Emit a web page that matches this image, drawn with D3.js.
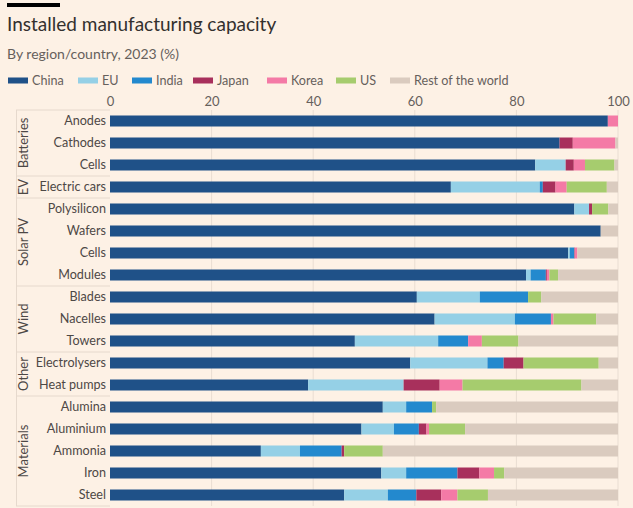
<!DOCTYPE html>
<html>
<head>
<meta charset="utf-8">
<script src="https://cdn.jsdelivr.net/npm/d3@7"></script>
<style>
  html, body { margin: 0; padding: 0; background: #fdf1e5; }
  svg { display: block; }
  text { font-family: Lato, "Open Sans", sans-serif; }
</style>
</head>
<body>
<svg id="chart" width="633" height="508"></svg>
<script>
// ---- Data ----
const categories = ["Anodes","Cathodes","Cells","Electric cars","Polysilicon","Wafers","Cells","Modules",
  "Blades","Nacelles","Towers","Electrolysers","Heat pumps","Alumina","Aluminium","Ammonia","Iron","Steel"];
const groups = ["Batteries","Batteries","Batteries","EV","Solar PV","Solar PV","Solar PV","Solar PV",
  "Wind","Wind","Wind","Other","Other","Materials","Materials","Materials","Materials","Materials"];
const seriesNames = ["China","EU","India","Japan","Korea","US","Rest of the world"];
const china = [98.0,88.5,83.7,67.1,91.4,96.6,90.2,81.9,60.4,63.9,48.2,59.1,39.0,53.7,49.5,29.7,53.4,46.1];
const eu    = [0,0,6.0,17.5,2.9,0,0.3,0.9,12.4,15.8,16.4,15.2,18.8,4.6,6.4,7.7,4.9,8.6];
const india = [0,0,0,0.6,0,0,0.9,3.0,9.5,7.1,5.9,3.2,0,5.1,4.9,8.2,10.1,5.6];
const japan = [0,2.6,1.6,2.5,0.6,0,0.1,0.2,0,0,0,3.9,7.1,0,1.5,0.5,4.3,4.9];
const korea = [2.0,8.4,2.2,2.2,0,0,0.5,0.5,0,0.5,2.7,0,4.5,0,0.5,0,2.9,3.2];
const us    = [0,0,5.8,7.9,3.2,0,0,1.7,2.6,8.4,7.2,14.8,23.4,0.8,7.1,7.6,2.0,6.0];
const rest  = [0,0.5,0.7,2.2,1.9,3.4,8.0,11.8,15.1,4.3,19.6,3.8,7.2,35.8,30.1,46.3,22.4,25.6];
const xTicks = [0,20,40,60,80,100];
const colors = ["#1f5188","#95d0e6","#2389ce","#a8305c","#f47aa6","#a6cc6e","#dacbbf"];

const seriesValues = [china, eu, india, japan, korea, us, rest];
const rows = categories.map((c, i) => {
  const o = { idx: i, cat: c, group: groups[i] };
  seriesNames.forEach((s, j) => o[s] = seriesValues[j][i]);
  return o;
});

const svg = d3.select("#chart");
const W = 633, H = 508;
svg.append("rect").attr("width", W).attr("height", H).attr("fill", "#fdf1e5");

// top black bar
svg.append("rect").attr("x", 7).attr("y", 3).attr("width", 53).attr("height", 4).attr("fill", "#000");

svg.append("text").attr("x", 7).attr("y", 31).attr("font-size", 19).attr("fill", "#33302e")
  .text("Installed manufacturing capacity");
svg.append("text").attr("x", 7).attr("y", 59).attr("font-size", 14).attr("fill", "#66605c")
  .text("By region/country, 2023 (%)");

// legend
const legendX = [8, 78, 132, 193, 267, 336, 390];
const lg = svg.append("g");
seriesNames.forEach((s, j) => {
  const g = lg.append("g").attr("transform", `translate(${legendX[j]},0)`);
  g.append("rect").attr("x", 0).attr("y", 77.5).attr("width", 20).attr("height", 6).attr("fill", colors[j]);
  g.append("text").attr("x", 24).attr("y", 85).attr("font-size", 12.6).attr("fill", "#66605c").text(s);
});

// scales
const x = d3.scaleLinear().domain([0, 100]).range([110, 618]);
const y = d3.scaleBand().domain(d3.range(categories.length)).range([110, 506]).paddingInner(0.5).paddingOuter(0.25);

// gridlines
svg.append("g").selectAll("line").data(xTicks.slice(1)).join("line")
  .attr("x1", d => x(d)).attr("x2", d => x(d)).attr("y1", 110).attr("y2", 506)
  .attr("stroke", "#e9ddd2").attr("stroke-width", 1);

// axis labels
const xAxis = d3.axisTop(x).tickValues(xTicks).tickSize(0).tickPadding(0);
const ax = svg.append("g").attr("transform", "translate(0,105.5)").call(xAxis);
ax.select(".domain").remove();
ax.selectAll("text").attr("font-size", 13).attr("fill", "#66605c")
  .attr("font-family", "Lato, 'Open Sans', sans-serif").attr("dy", 0);

// stacks
const stack = d3.stack().keys(seriesNames);
const stacked = stack(rows);
svg.append("g").selectAll("g").data(stacked).join("g")
  .attr("fill", (d, j) => colors[j])
  .selectAll("rect").data(d => d).join("rect")
  .attr("x", d => x(d[0]))
  .attr("width", d => Math.max(0, x(d[1]) - x(d[0])))
  .attr("y", (d, i) => y(i))
  .attr("height", y.bandwidth());

// category labels
svg.append("g").selectAll("text").data(rows).join("text")
  .attr("x", 106).attr("y", d => y(d.idx) + y.bandwidth() / 2)
  .attr("dy", "0.35em").attr("text-anchor", "end")
  .attr("font-size", 12.6).attr("fill", "#4d4845").text(d => d.cat);

// group structure
const groupList = [];
groups.forEach((g, i) => {
  if (!groupList.length || groupList[groupList.length - 1].name !== g) groupList.push({ name: g, start: i, end: i });
  else groupList[groupList.length - 1].end = i;
});
const step = y.step();
const y0 = 110;
const bounds = [y0].concat(groupList.map(g => y0 + (g.end + 1) * step));
svg.append("g").selectAll("line").data(bounds).join("line")
  .attr("x1", 16).attr("x2", 110).attr("y1", d => d).attr("y2", d => d)
  .attr("stroke", "#e6d9cd").attr("stroke-width", 1);
svg.append("line").attr("x1", 16.5).attr("x2", 16.5).attr("y1", y0).attr("y2", bounds[bounds.length - 1])
  .attr("stroke", "#e6d9cd").attr("stroke-width", 1);
svg.append("g").selectAll("text").data(groupList).join("text")
  .attr("transform", g => `translate(28,${y0 + (g.start + g.end + 1) / 2 * step}) rotate(-90)`)
  .attr("text-anchor", "middle").attr("font-size", 13).attr("fill", "#4d4845")
  .text(g => g.name);
</script>
</body>
</html>
